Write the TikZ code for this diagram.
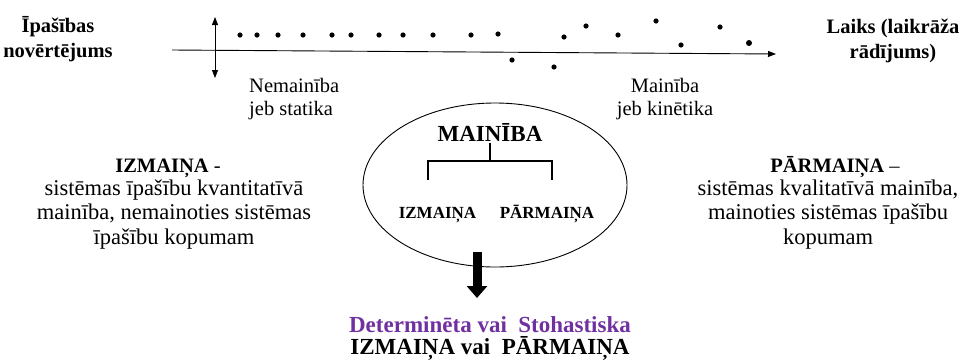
\documentclass[tikz,border=0pt]{standalone}
\usepackage{fontspec}
\setmainfont{Liberation Serif}
\usetikzlibrary{shapes.geometric,arrows.meta}
\definecolor{purp}{HTML}{7030A0}
\begin{document}
\begin{tikzpicture}[x=1pt,y=-1pt,
  hb/.style={font=\bfseries\fontsize{20.5}{25}\selectfont, inner sep=0pt, align=center},
  rg/.style={font=\fontsize{20.5}{23}\selectfont, inner sep=0pt},
  body/.style={font=\fontsize{22.5}{24.5}\selectfont, inner sep=0pt, align=center},
  bigb/.style={font=\bfseries\fontsize{23}{25}\selectfont, inner sep=0pt},
  smallb/.style={font=\bfseries\fontsize{17}{20}\selectfont, inner sep=0pt},
  dot/.style={fill=black},
  axis/.style={line width=0.9pt, -{Triangle[width=6pt,length=8pt]}},
  dbl/.style={line width=0.8pt, {Triangle[width=6pt,length=8pt]}-{Triangle[width=6pt,length=8pt]}},
  bracket/.style={line width=2.5pt},
  fat/.style={line width=9pt, -{Triangle[width=20pt,length=12pt]}}
]
\useasboundingbox (0,0) rectangle (973,360);

% axis
\coordinate (axL) at (172,50);
\coordinate (axR) at (776,54);
\draw[axis] (axL) -- (axR);
\coordinate (vT) at (215,17);
\coordinate (vB) at (215,78);
\draw[dbl] (vT) -- (vB);

% dots
\foreach \x/\y in {240/35,257/35,278/35,303/35,332/35,351/35,379/35,403/35,433/35,471/35,498/34,
                   512/60,554/67,564/37,586/26,618/35,656/21,681/45,720/27}
  \fill[dot] (\x,\y) circle[radius=2.6pt];
\fill[dot] (749,43) circle[radius=3pt];

% top labels (base anchor = last line baseline)
\node[hb, anchor=base] (prop) at (58,57) {Īpašības\\novērtējums};
\node[hb, anchor=base] (time) at (893,58) {Laiks (laikrāža\\rādījums)};
\node[rg, align=left, anchor=base west] (stat) at (249,115) {Nemainība\\jeb statika};
\node[rg, align=center, anchor=base] (kin) at (665,115) {Mainība\\jeb kinētika};

% ellipse
\node[draw, ellipse, line width=0.9pt, minimum width=264pt, minimum height=164pt, inner sep=0pt] (ell) at (495,185) {};
\node[bigb, inner sep=2pt, anchor=base] (main) at (490,141) {MAINĪBA};
\coordinate (brT) at (490,161);
\coordinate (brL) at (428,180);
\coordinate (brR) at (552,180);
\draw[bracket] (main.south) -- (brT);
\draw[bracket] (brL) |- (brT) -| (brR);
\node[smallb, anchor=base] (izm) at (437.5,218) {IZMAIŅA};
\node[smallb, anchor=base] (parm) at (547,218) {PĀRMAIŅA};

% fat arrow
\coordinate (arT) at (477,252);
\coordinate (arB) at (477,298);
\draw[fat] (arT) -- (arB);

% bottom
\node[bigb, text=purp, anchor=base] (det) at (490,332) {Determinēta vai\ \ Stohastiska};
\node[bigb, anchor=base] (res) at (490,354) {IZMAIŅA vai\ \ PĀRMAIŅA};

% side blocks
\node[hb, anchor=base] (izh) at (168,172) {IZMAIŅA {\mdseries -}};
\node[body, anchor=base] (izb) at (174,244) {sistēmas īpašību kvantitatīvā\\mainība, nemainoties sistēmas\\īpašību kopumam};
\node[hb, anchor=base] (pah) at (835,172) {PĀRMAIŅA {\mdseries –}};
\node[body, anchor=base] (pab) at (828,244) {sistēmas kvalitatīvā mainība,\\mainoties sistēmas īpašību\\kopumam};
\end{tikzpicture}
\end{document}
